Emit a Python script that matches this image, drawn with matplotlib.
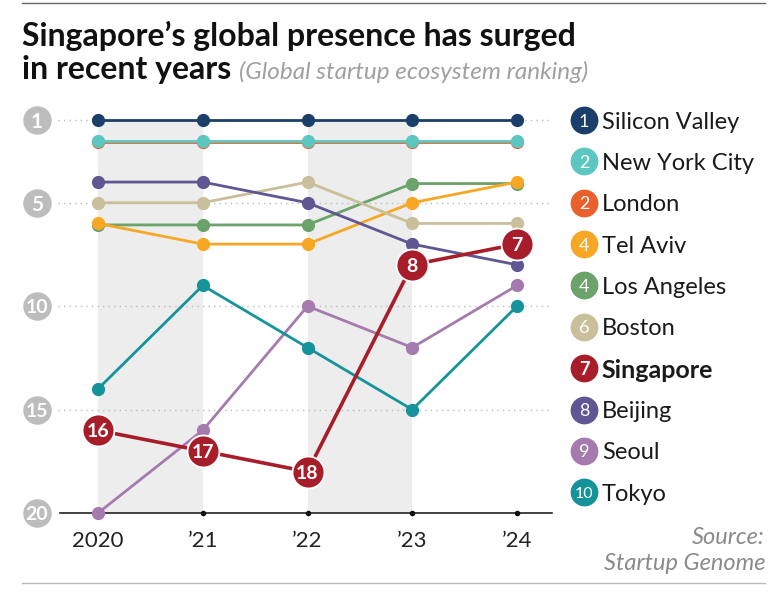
import matplotlib
matplotlib.use("Agg")
import matplotlib.pyplot as plt
import matplotlib.transforms as mtransforms
from matplotlib.lines import Line2D

plt.rcParams['font.family'] = ['Lato', 'DejaVu Sans']

years = ["2020", "\u201921", "\u201922", "\u201923", "\u201924"]
cities = ["Silicon Valley", "New York City", "London", "Tel Aviv", "Los Angeles",
          "Boston", "Singapore", "Beijing", "Seoul", "Tokyo"]
rank_2024 = [1, 2, 2, 4, 4, 6, 7, 8, 9, 10]
silicon_valley = [1, 1, 1, 1, 1]
new_york = [2, 2, 2, 2, 2]
london = [2, 2, 2, 2, 2]
tel_aviv = [6, 7, 7, 5, 4]
los_angeles = [6, 6, 6, 4, 4]
boston = [5, 5, 4, 6, 6]
singapore = [16, 17, 18, 8, 7]
beijing = [4, 4, 5, 7, 8]
seoul = [20, 16, 10, 12, 9]
tokyo = [14, 9, 12, 15, 10]
y_ticks = [1, 5, 10, 15, 20]

colors = {
    "Silicon Valley": "#1B3F6B",
    "New York City": "#5CC7C0",
    "London": "#E8602C",
    "Tel Aviv": "#F8A724",
    "Los Angeles": "#6BA36A",
    "Boston": "#C9BF9A",
    "Singapore": "#A71E2A",
    "Beijing": "#5F5693",
    "Seoul": "#A57AAE",
    "Tokyo": "#15939B",
}
series = {
    "Silicon Valley": silicon_valley, "New York City": new_york, "London": london,
    "Tel Aviv": tel_aviv, "Los Angeles": los_angeles, "Boston": boston,
    "Singapore": singapore, "Beijing": beijing, "Seoul": seoul, "Tokyo": tokyo,
}

W, H = 783, 593
fig = plt.figure(figsize=(W / 100, H / 100), dpi=100)
# axes box in pixels: x 56..540, y 100..530 (from top)
ax = fig.add_axes([56 / W, (H - 530) / H, (540 - 56) / W, 430 / H])
ax.set_xlim(-0.401, 4.2196)
ax.set_ylim(20.82, 0.033)
ax.axis('off')

x = list(range(len(years)))

# shaded bands
for a, b in [(0, 1), (2, 3)]:
    ax.fill_between([a, b], 1, 20, color="#EDEDED", zorder=0, lw=0)

# gridlines
for t in y_ticks[:-1]:
    ax.plot([-0.38, 4.33], [t, t], ls=(0, (1, 3)), color="#BBBBBB", lw=1, zorder=0.5, clip_on=False)
ax.plot([-0.36, 4.33], [20, 20], color="#222222", lw=1.2, zorder=0.6, clip_on=False)
ax.plot(x[1:], [20] * 4, 'o', color="#111111", ms=3, zorder=0.7)

# y tick circles
for t in y_ticks:
    ax.plot(-0.582, t, 'o', ms=20.5, color="#BDBDBD", mec='none', clip_on=False, zorder=3)
    ax.text(-0.582, t, str(t), color='white', fontsize=15 if t < 10 else 14, fontweight='bold',
            ha='center', va='center_baseline', clip_on=False, zorder=4)

# x labels
for xi, lab in zip(x, years):
    ax.text(xi, 21.35, lab, ha='center', va='center', fontsize=16, color="#222222", clip_on=False)

offsets = {"London": -1.8, "Los Angeles": -1.5}
order = ["London", "New York City", "Silicon Valley", "Los Angeles", "Tel Aviv",
         "Boston", "Beijing", "Seoul", "Tokyo"]
for i, name in enumerate(order):
    tr = ax.transData
    if name in offsets:
        tr = mtransforms.offset_copy(ax.transData, fig=fig, x=0, y=offsets[name], units='dots')
    ax.plot(x, series[name], '-o', color=colors[name], lw=2, ms=8.5, transform=tr,
            zorder=5 + i, clip_on=False)

# Singapore
ax.plot(x, singapore, '-', color=colors["Singapore"], lw=2.6, zorder=20)
ax.plot(x, singapore, 'o', color=colors["Singapore"], ms=23, mec='white', mew=1.3, zorder=21)
for xi, v in zip(x, singapore):
    ax.text(xi, v, str(v), color='white', fontsize=14, fontweight='bold',
            ha='center', va='center_baseline', zorder=22)

# legend
for i, (name, r) in enumerate(zip(cities, rank_2024)):
    ly = 1 + 2 * i
    bold = name == "Singapore"
    ax.plot(4.64, ly, 'o', ms=20, color=colors[name], mec='none', clip_on=False, zorder=30)
    ax.text(4.64, ly, str(r), color='white', fontsize=13 if r < 10 else 11.5,
            ha='center', va='center_baseline', clip_on=False, zorder=31,
            fontweight='bold' if bold else 'normal')
    ax.text(4.81, ly, name, fontsize=18 if bold else 17, color="#1A1A1A", ha='left',
            va='center_baseline', fontweight='bold' if bold else 'normal',
            clip_on=False, zorder=31)

# title
fig.text(22 / W, 1 - 36 / H, "Singapore\u2019s global presence has surged", fontsize=23,
         fontweight='bold', color="#111111", ha='left', va='center')
t1 = fig.text(22 / W, 1 - 70 / H, "in recent years ", fontsize=23,
              fontweight='bold', color="#111111", ha='left', va='center')
fig.canvas.draw()
bb = t1.get_window_extent()
fig.text(bb.x1 / W, 1 - 72 / H, "(Global startup ecosystem ranking)", fontsize=17.5,
         style='italic', color="#A0A0A0", ha='left', va='center')

# source
fig.text(765 / W, 1 - 537 / H, "Source:", fontsize=17, style='italic', color="#8A8A8A",
         ha='right', va='center')
fig.text(765 / W, 1 - 563 / H, "Startup Genome", fontsize=17, style='italic', color="#8A8A8A",
         ha='right', va='center')

# rules
fig.add_artist(Line2D([22 / W, 765 / W], [1 - 3 / H, 1 - 3 / H], color="#666666", lw=1))
fig.add_artist(Line2D([22 / W, 765 / W], [1 - 583 / H, 1 - 583 / H], color="#BBBBBB", lw=1))

fig.savefig("out.png", dpi=100)
